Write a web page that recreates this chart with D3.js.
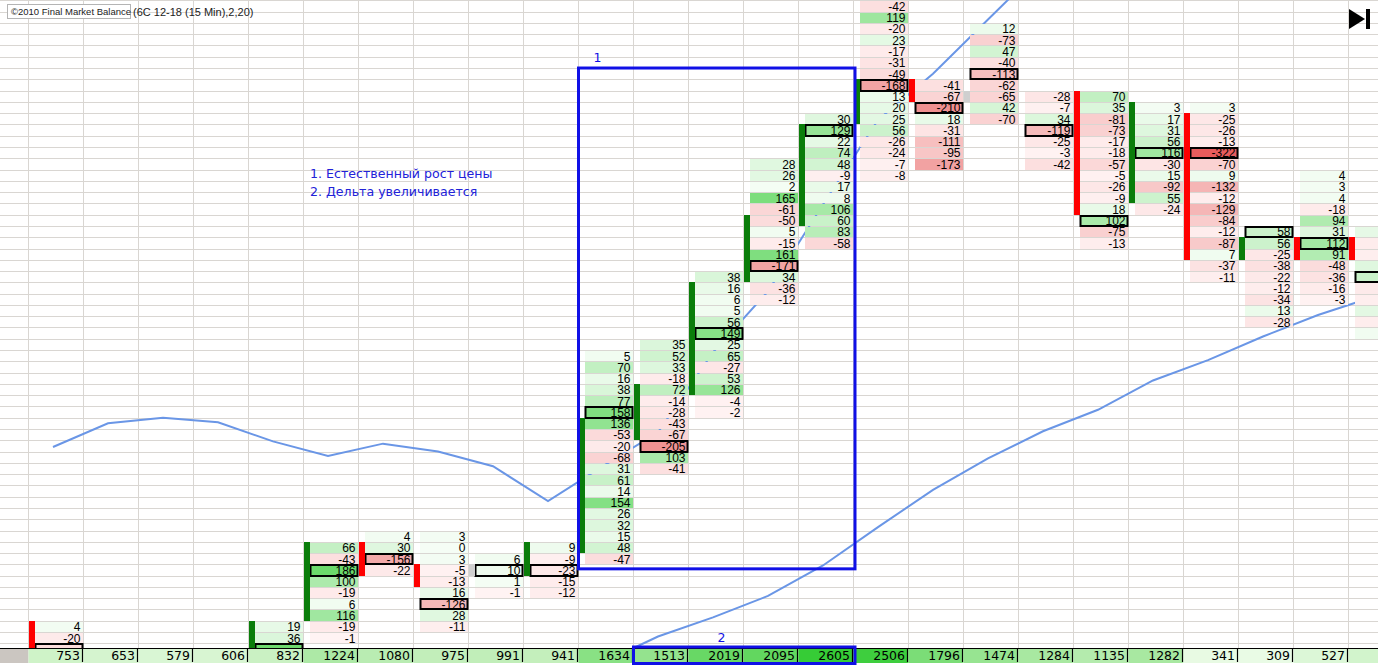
<!DOCTYPE html>
<html><head><meta charset="utf-8">
<script src="https://cdn.jsdelivr.net/npm/d3@7"></script>
<style>html,body{margin:0;padding:0;background:#fff;overflow:hidden}</style>
</head><body><svg id="c" width="1378" height="665"></svg>
<script>
// ---------- data (price rows are counted as level indexes, 0 = lowest visible row) ----------
const volume = [753,653,579,606,832,1224,1080,975,991,941,1634,1513,2019,2095,2605,2506,1796,1474,1284,1135,1282,341,309,527,700];
const cellTop = [1,null,null,null,1,8,9,9,7,8,25,26,32,42,46,56,49,54,48,48,47,47,36,41,36];
const cellValues = [
  [4,-20,-51],
  [],[],[],
  [19,36,183],
  [66,-43,186,100,-19,6,116,-19,-1],
  [4,30,-156,-22],
  [3,0,3,-5,-13,16,-126,28,-11],
  [6,10,1,-1],
  [9,-9,-23,-15,-12],
  [5,70,16,38,77,158,136,-53,-20,-68,31,61,14,154,26,32,15,48,-47],
  [35,52,33,-18,72,-14,-28,-43,-67,-205,103,-41],
  [38,16,6,5,56,149,25,65,-27,53,126,-4,-2],
  [28,26,2,165,-61,-50,5,-15,161,-171,34,-36,-12],
  [30,129,22,74,48,-9,17,8,106,60,83,-58],
  [-42,119,-20,23,-17,-31,-49,-168,13,20,25,56,-26,-24,-7,-8],
  [-41,-67,-210,18,-31,-111,-95,-173],
  [12,-73,47,-40,-113,-62,-65,42,-70],
  [-28,-7,34,-119,-25,-3,-42],
  [70,35,-81,-73,-17,-18,-57,-5,-26,-9,18,102,-75,-13],
  [3,17,31,56,116,-30,15,-92,55,-24],
  [3,-25,-26,-13,-322,-70,9,-132,-12,-129,-84,-12,-87,7,-37,-11],
  [58,56,-25,-38,-22,-12,-34,13,-28],
  [4,3,4,-18,94,31,112,91,-48,-36,-16,-3],
  [20,-15,-10,30,60,-20,-10,25,-12,5]
];
const barLow  = [-1,null,null,null,-1,2,6,5,6,6,8,18,22,32,37,46,48,48,null,38,39,34,34,34,34];
const barHigh = [ 1,null,null,null, 1,8,8,6,6,8,19,22,31,37,45,49,49,48,null,48,47,46,35,35,35];
const barDir  = ["down",null,null,null,"up","up","down","down","flat","up","up","up","up","up","up","up","down","flat",null,"down","up","down","up","down","down"];
const maFast = [16.9,19.0,19.5,19.1,17.4,16.1,17.2,16.5,15.2,12.1,15.2,18.2,25.3,30.7,38.4,45.9,50.0,54.8,59.6,null,null,null,null,null,null];
const maSlow = [null,null,null,null,null,null,null,null,null,null,-2.2,0.1,1.8,3.7,6.4,9.8,13.1,15.9,18.3,20.2,22.8,24.6,26.7,28.6,30.2];
const title = "(6C 12-18 (15 Min),2,20)";
const copyright = "©2010 Final Market Balance";
const notes = ["1. Естественный рост цены", "2. Дельта увеличивается"];

// ---------- drawing ----------
const W = 1378, H = 665;
const svg = d3.select("#c");
const x = d3.scaleLinear().domain([0,1]).range([28.5,83.5]);      // column index -> left edge
const y = d3.scaleLinear().domain([0,1]).range([643.3,632.02]);   // level -> bottom edge of row
const colW = x(1)-x(0);
const volTop = 648, volH = 15;
const cellFont = "'Liberation Sans', Arial, sans-serif";

svg.append("defs").append("clipPath").attr("id","plot")
  .append("rect").attr("x",0).attr("y",0).attr("width",W).attr("height",volTop);

svg.append("rect").attr("width",W).attr("height",H).attr("fill","#fff");

// grid
const grid = svg.append("g").attr("stroke","#d9d6d2").attr("stroke-width",1);
grid.selectAll("line.h").data(d3.range(-1,58)).join("line")
  .attr("x1",0).attr("x2",W)
  .attr("y1",d=>Math.round(y(d))+0.5).attr("y2",d=>Math.round(y(d))+0.5);
grid.selectAll("line.v").data(d3.range(0,26)).join("line")
  .attr("x1",d=>x(d)).attr("x2",d=>x(d)).attr("y1",0).attr("y2",volTop);

// moving-average lines (under the cells)
const lineGen = d3.line().defined(d=>d!=null).x((d,i)=>x(i)+24.5).y(d=>y(d+0.5));
[maFast, maSlow].forEach(arr=>{
  svg.append("path").datum(arr).attr("d",lineGen)
    .attr("fill","none").attr("stroke","#6a96e6").attr("stroke-width",2);
});

// cells
const cells = [];
cellValues.forEach((vals,c)=>vals.forEach((v,j)=>cells.push({c, level: cellTop[c]-j, v})));
const maxAbs = cellValues.map(vals=>d3.max(vals,v=>Math.abs(v)));
const posColor = d3.scaleLinear().domain([0,200]).range(["#f5fdf5","#62d762"]).clamp(true);
const negColor = d3.scaleLinear().domain([0,330]).range(["#fff3f3","#e65858"]).clamp(true);

const gCells = svg.append("g").attr("clip-path","url(#plot)");
gCells.selectAll("rect").data(cells).join("rect")
  .attr("x",d=>x(d.c)+6.5).attr("width",colW-7)
  .attr("y",d=>Math.round(y(d.level+1))+1).attr("height",d=>Math.round(y(d.level))-Math.round(y(d.level+1))-1)
  .attr("fill",d=>d.v>=0?posColor(d.v):negColor(-d.v));

// only the numbers that fall inside the plot are drawn (the rest is clipped in the original)
gCells.selectAll("text").data(cells.filter(d=>x(d.c)+52<=W && y(d.level)-4<volTop)).join("text")
  .attr("x",d=>x(d.c)+52).attr("y",d=>y(d.level)-0.8)
  .attr("text-anchor","end").attr("font-family",cellFont).attr("font-size","12px").attr("fill","#000")
  .text(d=>d.v);

// max-delta boxes
gCells.selectAll("rect.box").data(cells.filter(d=>Math.abs(d.v)===maxAbs[d.c])).join("rect")
  .attr("class","box")
  .attr("x",d=>x(d.c)+7).attr("width",colW-8)
  .attr("y",d=>Math.round(y(d.level+1))+1).attr("height",d=>Math.round(y(d.level))-Math.round(y(d.level+1))-1)
  .attr("fill","none").attr("stroke","#000").attr("stroke-width",2);

// open-close bars
const bars = barDir.map((d,i)=>({c:i,dir:d,lo:barLow[i],hi:barHigh[i]})).filter(d=>d.dir);
svg.append("g").attr("clip-path","url(#plot)").selectAll("rect").data(bars).join("rect")
  .attr("x",d=>x(d.c)+0.5).attr("width",6)
  .attr("y",d=>Math.round(y(d.hi+1))).attr("height",d=>Math.round(y(d.lo))-Math.round(y(d.hi+1)))
  .attr("fill",d=>d.dir==="up"?"#0a7d0a":d.dir==="down"?"#ff0000":"#cfcfcf");

// volume row
const volColor = d3.scaleLinear().domain([300,1000,2600]).range(["#eafbe6","#c0eeb8","#36cc36"]).clamp(true);
const gVol = svg.append("g");
gVol.append("rect").attr("x",0).attr("y",volTop).attr("width",W).attr("height",H-volTop).attr("fill","#fff");
gVol.append("rect").attr("x",0).attr("y",volTop).attr("width",x(0)).attr("height",volH).attr("fill","#cbc6c1");
gVol.selectAll("rect.v").data(volume).join("rect").attr("class","v")
  .attr("x",(d,i)=>x(i)).attr("width",colW).attr("y",volTop).attr("height",volH)
  .attr("fill",d=>volColor(d));
gVol.append("line").attr("x1",0).attr("x2",W).attr("y1",volTop+0.5).attr("y2",volTop+0.5).attr("stroke","#000");
gVol.selectAll("line.s").data(volume).join("line").attr("class","s")
  .attr("x1",(d,i)=>x(i+1)-1).attr("x2",(d,i)=>x(i+1)-1).attr("y1",volTop+1).attr("y2",volTop+volH-1)
  .attr("stroke","#000").attr("stroke-width",1.2);
gVol.selectAll("text").data(volume.map((v,i)=>({v,i})).filter(d=>x(d.i+1)-3.5<=W)).join("text")
  .attr("x",d=>x(d.i+1)-3.5).attr("y",volTop+12.3)
  .attr("text-anchor","end").attr("font-family","'DejaVu Sans', Verdana, sans-serif").attr("font-size","12.5px").attr("fill","#000")
  .text(d=>d.v);

// annotations (blue)
const blue = "#1010e6";
svg.append("rect").attr("x",x(10)).attr("y",y(51))
  .attr("width",x(15)-x(10)+1.5).attr("height",y(6.6)-y(51))
  .attr("fill","none").attr("stroke",blue).attr("stroke-width",3);
svg.append("text").attr("x",x(10)+19).attr("y",y(51.55)).attr("text-anchor","middle")
  .attr("font-family","'DejaVu Sans', sans-serif").attr("font-size","12.5px").attr("fill",blue).text("1");
svg.append("rect").attr("x",x(11)).attr("y",volTop-1)
  .attr("width",x(15)-x(11)+1.5).attr("height",volH+1.5)
  .attr("fill","none").attr("stroke",blue).attr("stroke-width",3);
svg.append("text").attr("x",x(12)+33).attr("y",volTop-6).attr("text-anchor","middle")
  .attr("font-family","'DejaVu Sans', sans-serif").attr("font-size","12.5px").attr("fill",blue).text("2");
svg.selectAll("text.note").data(notes).join("text").attr("class","note")
  .attr("x",310).attr("y",(d,i)=>178+i*18)
  .attr("font-family","'DejaVu Sans', Verdana, sans-serif").attr("font-size","12.6px").attr("fill","#2222d8")
  .text(d=>d);

// header
svg.append("text").attr("x",133).attr("y",16).attr("font-family",cellFont).attr("font-size","11px").attr("fill","#222").text(title);
svg.append("rect").attr("x",7.5).attr("y",4.5).attr("width",123).attr("height",14).attr("fill","#fff").attr("stroke","#b4b4b4");
svg.append("text").attr("x",11).attr("y",15).attr("font-family",cellFont).attr("font-size","9.5px").attr("fill","#222").text(copyright);

// play-to-end icon
svg.append("path").attr("d","M1349,9 L1365,19 L1349,29 Z").attr("fill","#000");
svg.append("rect").attr("x",1366).attr("y",9).attr("width",4).attr("height",20).attr("fill","#000");
</script></body></html>
